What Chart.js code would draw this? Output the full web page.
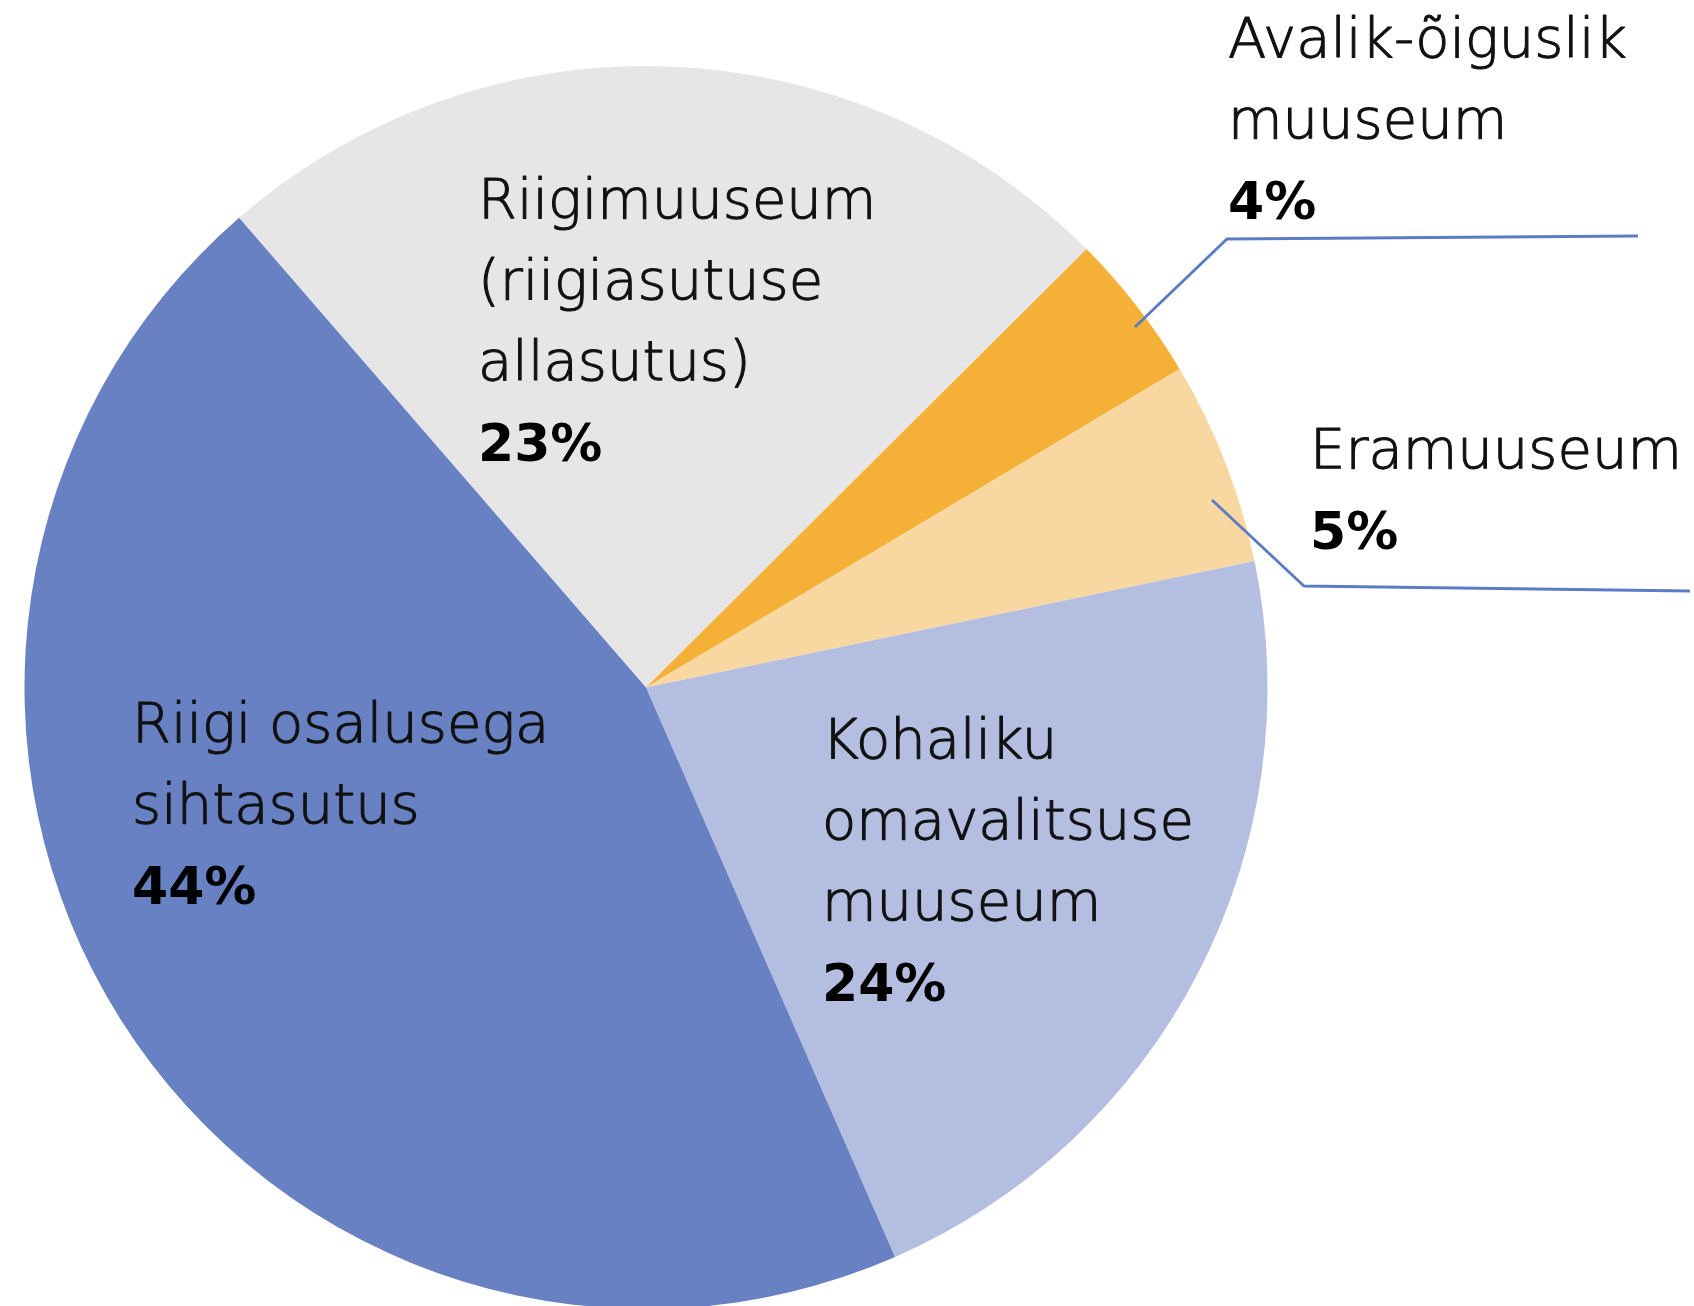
<!DOCTYPE html>
<html>
<head>
<meta charset="utf-8">
<script src="https://cdn.jsdelivr.net/npm/chart.js@4.4.1/dist/chart.umd.min.js"></script>
<style>
  html, body { margin: 0; padding: 0; background: #ffffff; overflow: hidden; }
  #wrap { width: 1694px; height: 1375px; }
</style>
</head>
<body>
<div id="wrap"><canvas id="museum-chart" width="1694" height="1375"></canvas></div>
<script>
// Données (ordre horaire depuis la séparation bleu / gris)
const categories = [
  ["Riigimuuseum", "(riigiasutuse", "allasutus)"],
  ["Avalik-õiguslik", "muuseum"],
  ["Eramuuseum"],
  ["Kohaliku", "omavalitsuse", "muuseum"],
  ["Riigi osalusega", "sihtasutus"],
];
const shares = [23.9, 3.9, 5.3, 21.7, 45.2];
const percentLabels = ["23%", "4%", "5%", "24%", "44%"];

// Couleurs des parts
const sliceColors = ["#e6e6e6", "#f4b037", "#f9d7a1", "#b4bee1", "#6781c3"];

// Placement des étiquettes (px) et lignes de rappel
const labelLayout = [
  { x: 478, y: 218 },
  { x: 1228, y: 57 },
  { x: 1310, y: 468 },
  { x: 822, y: 758 },
  { x: 132, y: 742 },
];
const leaderLines = [
  [[1135, 327], [1227, 239], [1638, 236]],
  [[1212, 500], [1304, 586], [1690, 591]],
];

const LINE_H = 81;

const labelPlugin = {
  id: "sliceLabels",
  afterDraw(chart) {
    const ctx = chart.ctx;
    ctx.save();

    // Lignes de rappel
    ctx.strokeStyle = "#5b7cc4";
    ctx.lineWidth = 2.8;
    leaderLines.forEach((pts) => {
      ctx.beginPath();
      ctx.moveTo(pts[0][0], pts[0][1]);
      for (let i = 1; i < pts.length; i++) ctx.lineTo(pts[i][0], pts[i][1]);
      ctx.stroke();
    });

    // Textes (graisse légère, un peu épaissie par un contour fin)
    ctx.textAlign = "left";
    ctx.textBaseline = "alphabetic";
    ctx.lineJoin = "round";
    categories.forEach((lines, i) => {
      const pos = labelLayout[i];
      ctx.fillStyle = "#111111";
      ctx.strokeStyle = "#111111";
      ctx.lineWidth = 1.1;
      ctx.font = "300 56px 'DejaVu Sans'";
      lines.forEach((txt, j) => {
        ctx.fillText(txt, pos.x, pos.y + j * LINE_H);
        ctx.strokeText(txt, pos.x, pos.y + j * LINE_H);
      });
      ctx.fillStyle = "#000000";
      ctx.font = "bold 52px 'DejaVu Sans'";
      ctx.fillText(percentLabels[i], pos.x, pos.y + lines.length * LINE_H);
    });

    ctx.restore();
  },
};

new Chart(document.getElementById("museum-chart"), {
  type: "pie",
  data: {
    labels: categories.map((l) => l.join(" ")),
    datasets: [
      {
        data: shares,
        backgroundColor: sliceColors,
        borderWidth: 0,
        clip: false,
      },
    ],
  },
  options: {
    responsive: false,
    devicePixelRatio: 1,
    animation: false,
    rotation: -40.9,
    layout: {
      padding: { left: 24.5, right: 426.5, top: 66, bottom: 66 },
    },
    plugins: {
      legend: { display: false },
      tooltip: { enabled: false },
    },
  },
  plugins: [labelPlugin],
});
</script>
</body>
</html>
